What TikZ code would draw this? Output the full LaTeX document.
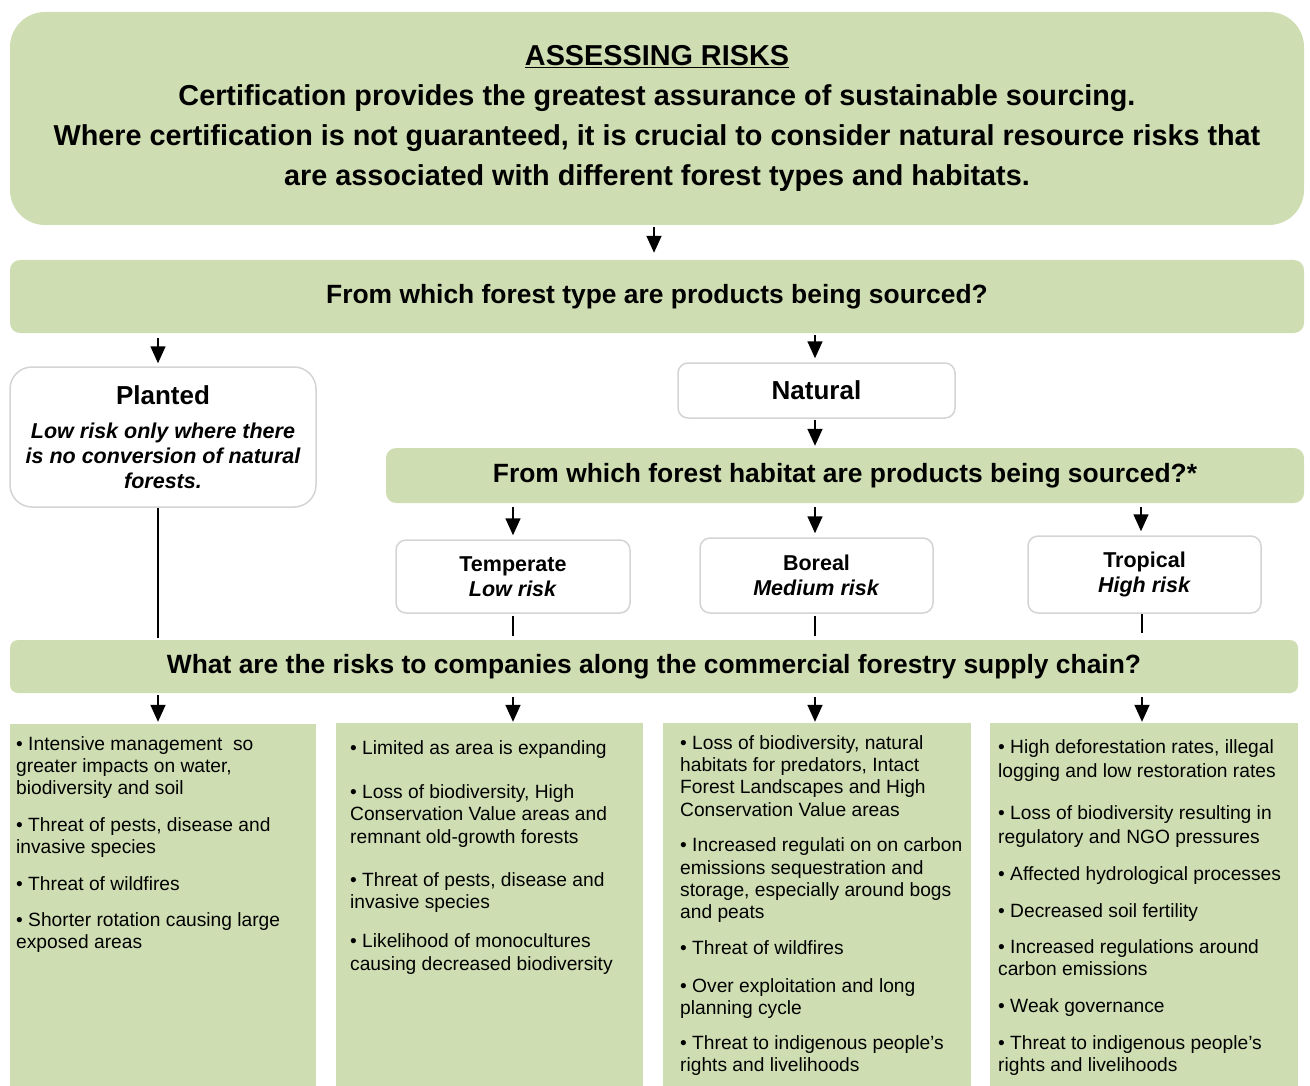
\documentclass[tikz,border=0pt]{standalone}
\usepackage{fontspec}
\setmainfont{Liberation Sans}
\usetikzlibrary{arrows.meta}
\definecolor{leaf}{RGB}{207,222,178}
\definecolor{edge}{RGB}{212,212,212}
\tikzset{
 greenbox/.style={fill=leaf, draw=none, inner sep=0pt, align=center, rounded corners=10pt, font=\bfseries\fontsize{26.4}{30}\selectfont},
 whitebox/.style={fill=white, draw=edge, line width=1.5pt, inner sep=0pt, align=center, rounded corners=10pt},
 colbox/.style={fill=leaf, draw=none, inner sep=0pt},
 coltext/.style={anchor=north west, inner sep=0pt, align=left},
 arr/.style={line width=1.6pt, -{Triangle[length=17pt 0,width=15pt 0]}},
 link/.style={line width=1.6pt},
}
\begin{document}
\begin{tikzpicture}[x=1pt,y=-1pt]
\useasboundingbox (0,0) rectangle (1310,1086);
% boxes
\node[greenbox, rounded corners=35pt, minimum width=1294pt, minimum height=213pt, font=\bfseries\fontsize{28.8}{40}\selectfont] (top) at (657,118.5)
 {\underline{ASSESSING RISKS}\\Certification provides the greatest assurance of sustainable sourcing.\\Where certification is not guaranteed, it is crucial to consider natural resource risks that\\are associated with different forest types and habitats.};
\node[greenbox, minimum width=1294pt, minimum height=73pt] (q1) at (657,296.5) {From which forest type are products being sourced?};
\node[whitebox, rounded corners=22pt, minimum width=306pt, minimum height=140pt, font=\bfseries\itshape\fontsize{21.5}{25}\selectfont] (planted) at (163,437)
 {{\upshape\fontsize{26}{30}\selectfont Planted}\\[9pt]Low risk only where there\\is no conversion of natural\\forests.};
\node[whitebox, minimum width=277pt, minimum height=55pt, font=\bfseries\fontsize{26}{30}\selectfont] (natural) at (816.5,390.5) {Natural};
\node[greenbox, minimum width=918pt, minimum height=55pt] (habitat) at (845,475.5) {From which forest habitat are products being sourced?*};
\node[whitebox, minimum width=234pt, minimum height=73pt, font=\bfseries\fontsize{21.5}{25}\selectfont] (temp) at (513,576.5) {Temperate\\\textit{Low risk}};
\node[whitebox, minimum width=233pt, minimum height=75pt, font=\bfseries\fontsize{21.5}{25}\selectfont] (boreal) at (816.5,575.5) {Boreal\\\textit{Medium risk}};
\node[whitebox, minimum width=233pt, minimum height=77pt, font=\bfseries\fontsize{21.5}{25}\selectfont] (trop) at (1144.5,574.5) {Tropical\\\textit{High risk}};
\node[greenbox, rounded corners=8pt, minimum width=1288pt, minimum height=53pt] (risks) at (654,666.5) {What are the risks to companies along the commercial forestry supply chain?};
\node[colbox, minimum width=306pt, minimum height=362pt] (c1) at (163,905) {};
\node[colbox, minimum width=307pt, minimum height=363pt] (c2) at (489.5,904.5) {};
\node[colbox, minimum width=308pt, minimum height=363pt] (c3) at (817,904.5) {};
\node[colbox, minimum width=308pt, minimum height=363pt] (c4) at (1144,904.5) {};
% column texts
\node[coltext, font=\fontsize{19.2}{22}\selectfont] (t1) at (16,736)
 {• Intensive management\ \ so\\greater impacts on water,\\biodiversity and soil\\[15pt]• Threat of pests, disease and\\invasive species\\[15pt]• Threat of wildfires\\[14pt]• Shorter rotation causing large\\exposed areas};
\node[coltext, font=\fontsize{19.2}{22.5}\selectfont] (t2) at (350,740)
 {• Limited as area is expanding\\[21.5pt]• Loss of biodiversity, High\\Conservation Value areas and\\remnant old-growth forests\\[20.5pt]• Threat of pests, disease and\\invasive species\\[16.5pt]• Likelihood of monocultures\\causing decreased biodiversity};
\node[coltext, font=\fontsize{19.2}{22.3}\selectfont] (t3) at (680,735)
 {• Loss of biodiversity, natural\\habitats for predators, Intact\\Forest Landscapes and High\\Conservation Value areas\\[13.5pt]• Increased regulati on on carbon\\emissions sequestration and\\storage, especially around bogs\\and peats\\[13.5pt]• Threat of wildfires\\[15.5pt]• Over exploitation and long\\planning cycle\\[12.5pt]• Threat to indigenous people’s\\rights and livelihoods};
\node[coltext, font=\fontsize{19.2}{23}\selectfont] (t4) at (998,739)
 {• High deforestation rates, illegal\\[1pt]logging and low restoration rates\\[19pt]• Loss of biodiversity resulting in\\[1pt]regulatory and NGO pressures\\[14pt]• Affected hydrological processes\\[14pt]• Decreased soil fertility\\[13pt]• Increased regulations around\\[-1pt]carbon emissions\\[14pt]• Weak governance\\[14pt]• Threat to indigenous people’s\\[-1pt]rights and livelihoods};
% connectors
\draw[arr, shorten <=2pt, shorten >=7pt] ([xshift=-3pt]top.south) -- ([xshift=-3pt]q1.north);
\draw[arr, shorten <=5pt, shorten >=3pt] ([xshift=-5pt]planted.north |- q1.south) -- ([xshift=-5pt]planted.north);
\draw[arr, shorten <=2pt, shorten >=4pt] ([xshift=-1.5pt]natural.north |- q1.south) -- ([xshift=-1.5pt]natural.north);
\draw[arr, shorten <=1pt, shorten >=2pt] ([xshift=-1.5pt]natural.south) -- ([xshift=-1.5pt]natural.south |- habitat.north);
\draw[arr, shorten <=4pt, shorten >=4pt] (temp.north |- habitat.south) -- (temp.north);
\draw[arr, shorten <=4pt, shorten >=4pt] ([xshift=-1.5pt]boreal.north |- habitat.south) -- ([xshift=-1.5pt]boreal.north);
\draw[arr, shorten <=4pt, shorten >=4pt] ([xshift=-3.5pt]trop.north |- habitat.south) -- ([xshift=-3.5pt]trop.north);
\draw[link, shorten >=2pt] ([xshift=-5pt]planted.south) -- ([xshift=-5pt]planted.south |- risks.north);
\draw[link, shorten <=2pt, shorten >=4pt] (temp.south) -- (temp.south |- risks.north);
\draw[link, shorten <=2pt, shorten >=4pt] ([xshift=-1.5pt]boreal.south) -- ([xshift=-1.5pt]boreal.south |- risks.north);
\draw[link, shorten <=0pt, shorten >=7pt] ([xshift=-2.5pt]trop.south) -- ([xshift=-2.5pt]trop.south |- risks.north);
\draw[arr, shorten <=2pt, shorten >=2pt] ([xshift=-5pt]c1.north |- risks.south) -- ([xshift=-5pt]c1.north);
\draw[arr, shorten <=4pt, shorten >=1pt] ([xshift=23.5pt]c2.north |- risks.south) -- ([xshift=23.5pt]c2.north);
\draw[arr, shorten <=4pt, shorten >=1pt] ([xshift=-2pt]c3.north |- risks.south) -- ([xshift=-2pt]c3.north);
\draw[arr, shorten <=4pt, shorten >=1pt] ([xshift=-2pt]c4.north |- risks.south) -- ([xshift=-2pt]c4.north);
\end{tikzpicture}
\end{document}
